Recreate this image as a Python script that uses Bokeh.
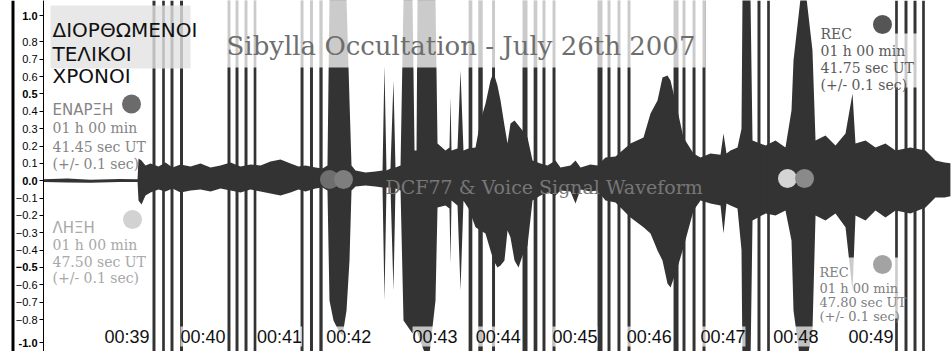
from bokeh.plotting import figure
from bokeh.models import Range1d, LinearAxis, FixedTicker, Span
from bokeh.core.properties import value
from bokeh.embed import file_html
from bokeh.resources import INLINE

# ---------------- data ----------------
# waveform envelope (time in seconds, normalised amplitude)
env_t = [38.180, 38.500, 38.812, 39.200, 39.444, 39.457, 39.497, 39.551, 39.618, 39.726,
         39.820, 39.914, 40.022, 40.156, 40.290, 40.425, 40.559, 40.694, 40.828, 40.962,
         41.097, 41.231, 41.366, 41.500, 41.608, 41.702, 41.836, 41.930, 41.997, 42.024,
         42.078, 42.145, 42.199, 42.253, 42.293, 42.320, 42.374, 42.508, 42.643, 42.737,
         42.763, 42.790, 42.844, 42.884, 42.911, 42.979, 43.019, 43.140, 43.167, 43.194,
         43.207, 43.355, 43.449, 43.476, 43.583, 43.637, 43.651, 43.664, 43.745, 43.785,
         43.825, 43.893, 43.987, 44.054, 44.121, 44.188, 44.229, 44.282, 44.323, 44.376,
         44.417, 44.457, 44.511, 44.565, 44.618, 44.686, 44.753, 44.860, 44.954, 45.062,
         45.129, 45.263, 45.331, 45.398, 45.532, 45.626, 45.734, 45.868, 46.070, 46.245,
         46.339, 46.433, 46.500, 46.567, 46.608, 46.702, 46.782, 46.917, 47.011, 47.145,
         47.280, 47.320, 47.360, 47.414, 47.508, 47.562, 47.575, 47.683, 47.710, 47.885,
         48.019, 48.153, 48.234, 48.261, 48.355, 48.436, 48.516, 48.557, 48.691, 48.825,
         48.960, 49.054, 49.094, 49.229, 49.363, 49.497, 49.632, 49.833, 50.035, 50.169,
         50.290, 50.370]
env_hi = [0.008, 0.012, 0.006, 0.010, 0.008, 0.128, 0.116, 0.088, 0.099, 0.082,
          0.105, 0.076, 0.093, 0.082, 0.099, 0.076, 0.088, 0.105, 0.082, 0.093,
          0.088, 0.111, 0.122, 0.099, 0.082, 0.088, 0.076, 0.070, 0.088, 1.050,
          1.050, 1.050, 1.050, 1.050, 0.462, 0.088, 0.059, 0.047, 0.053, 0.059,
          0.664, 0.059, 0.070, 0.578, 0.076, 0.088, 1.050, 1.050, 0.174, 0.174,
          1.050, 1.050, 1.050, 0.214, 0.174, 0.191, 0.480, 0.174, 0.186, 0.635,
          0.174, 0.186, 0.191, 0.347, 0.444, 0.578, 0.624, 0.549, 0.462, 0.318,
          0.214, 0.330, 0.347, 0.318, 0.289, 0.249, 0.116, 0.099, 0.088, 0.116,
          0.076, 0.088, 0.116, 0.076, 0.093, 0.088, 0.134, 0.140, 0.214, 0.249,
          0.387, 0.462, 0.595, 0.606, 0.578, 0.405, 0.249, 0.157, 0.134, 0.157,
          0.150, 0.272, 0.157, 0.174, 0.191, 0.300, 1.050, 1.050, 0.232, 0.203,
          0.232, 0.191, 0.405, 0.693, 1.050, 1.050, 0.750, 0.232, 0.261, 0.203,
          0.272, 0.503, 0.214, 0.232, 0.191, 0.214, 0.174, 0.191, 0.174, 0.116,
          0.105, 0.100]
env_lo = [-0.008, -0.010, -0.012, -0.008, -0.008, -0.114, -0.137, -0.085, -0.068, -0.051,
          -0.062, -0.045, -0.068, -0.056, -0.051, -0.062, -0.045, -0.056, -0.068, -0.051,
          -0.062, -0.074, -0.085, -0.068, -0.051, -0.062, -0.045, -0.039, -0.056, -0.690,
          -0.806, -0.864, -0.893, -0.748, -0.460, -0.056, -0.033, -0.028, -0.033, -0.039,
          -0.690, -0.039, -0.039, -0.633, -0.045, -0.056, -0.806, -0.881, -0.864, -0.864,
          -0.881, -1.050, -0.690, -0.154, -0.143, -0.160, -0.478, -0.114, -0.143, -0.633,
          -0.115, -0.160, -0.269, -0.287, -0.304, -0.402, -0.460, -0.500, -0.489, -0.460,
          -0.287, -0.327, -0.460, -0.500, -0.432, -0.374, -0.114, -0.085, -0.068, -0.085,
          -0.056, -0.062, -0.131, -0.051, -0.062, -0.056, -0.114, -0.125, -0.212, -0.269,
          -0.304, -0.402, -0.460, -0.592, -0.615, -0.500, -0.385, -0.172, -0.114, -0.131,
          -0.143, -0.304, -0.131, -0.143, -0.160, -0.400, -1.050, -1.050, -0.229, -0.189,
          -0.200, -0.172, -0.344, -0.748, -1.050, -1.050, -0.864, -0.200, -0.229, -0.189,
          -0.269, -0.633, -0.200, -0.229, -0.172, -0.212, -0.172, -0.189, -0.154, -0.097,
          -0.097, -0.090]

# DCF77 pulses (centre time, duration in seconds)
pulse_t = [39.665, 39.793, 39.907, 40.035,
           40.673, 40.781, 40.902, 41.023,
           41.655, 41.782, 41.910,
           43.919, 44.054, 44.229,
           44.652, 44.793, 44.907, 45.042,
           45.660, 45.781, 45.915, 46.050,
           46.682, 46.789, 46.924, 47.058,
           47.797, 47.925,
           49.645, 49.773, 49.894, 50.008]
pulse_w = [0.040, 0.036, 0.040, 0.040,
           0.040, 0.040, 0.040, 0.036,
           0.040, 0.040, 0.044,
           0.050, 0.060, 0.040,
           0.067, 0.050, 0.040, 0.040,
           0.067, 0.040, 0.040, 0.040,
           0.067, 0.040, 0.040, 0.040,
           0.040, 0.036,
           0.036, 0.040, 0.040, 0.036]

# time labels (anchor time, text)
time_t = [39.00, 40.02, 41.05, 41.98, 43.14, 43.99, 45.02, 46.02, 47.01, 47.99, 49.00]
time_labels = ["00:39", "00:40", "00:41", "00:42", "00:43", "00:44",
               "00:45", "00:46", "00:47", "00:48", "00:49"]

# amplitude axis ticks
norm_ticks = [0.8, 0.7, 0.6, 0.4, 0.3, 0.2, 0.1, -0.1, -0.2, -0.3, -0.4, -0.6, -0.7, -0.8]
bold_ticks = [0.952, 0.5, 0.0, -0.5, -0.935]
bold_labels = {0.952: "1.0", 0.0: "0.0", -0.935: "-1.0"}

# annotation markers (time, amplitude, colour)
dot_t = [39.363, 39.376, 42.024, 42.212, 48.180, 48.409, 49.457, 49.457]
dot_y = [0.442, -0.224, 0.007, 0.007, 0.013, 0.013, 0.900, -0.483]
dot_c = ["#6b6b6b", "#d2d2d2", "#6e6e6e", "#7e7e7e", "#d4d4d4", "#8a8a8a", "#555555", "#a3a3a3"]

header_lines = ["ΔΙΟΡΘΩΜΕΝΟΙ", "ΤΕΛΙΚΟΙ", "ΧΡΟΝΟΙ"]
start_lines = ["01 h 00 min", "41.45 sec UT", "(+/- 0.1 sec)"]
end_lines = ["01 h 00 min", "47.50 sec UT", "(+/- 0.1 sec)"]
rec1_lines = ["REC", "01 h 00 min", "41.75 sec UT", "(+/- 0.1 sec)"]
rec2_lines = ["REC", "01 h 00 min", "47.80 sec UT", "(+/- 0.1 sec)"]

# ---------------- figure ----------------
p = figure(width=952, height=351, x_range=Range1d(37.602, 50.398), y_range=Range1d(-0.9844, 1.0386),
           output_backend="svg", toolbar_location=None, x_axis_location=None, y_axis_location=None,
           min_border=0, outline_line_color=None, background_fill_color="white")
p.grid.visible = False

WAVE = "#333333"
p.varea(x=env_t, y1=env_lo, y2=env_hi, fill_color=WAVE)
p.vbar(x=pulse_t, width=pulse_w, top=1.05, bottom=-1.05, fill_color=WAVE, line_color=None)

# translucent boxes
p.quad(left=[40.156, 48.597, 48.557], right=[47.078, 49.941, 49.672],
       top=[1.05, 0.848, -0.443], bottom=[0.652, 0.537, -0.794],
       fill_color="white", fill_alpha=0.75, line_color=None)
p.quad(left=[38.274], right=[40.156], top=[1.01], bottom=[0.647],
       fill_color="#e2e2e2", fill_alpha=0.8, line_color=None)

# left border line
p.add_layout(Span(location=37.770, dimension="height", line_color="black", line_width=3))

# axes at fixed location
for ticks, style in ((norm_ticks, "normal"), (bold_ticks, "bold")):
    ax = LinearAxis(fixed_location=38.180, ticker=FixedTicker(ticks=ticks),
                    axis_line_color="black", axis_line_width=1,
                    major_tick_out=4, major_tick_in=0, minor_tick_line_color=None,
                    major_label_standoff=2,
                    major_label_text_font="Liberation Sans",
                    major_label_text_font_size="11px",
                    major_label_text_font_style=style,
                    major_label_text_color="black")
    if style == "bold":
        ax.major_label_overrides = bold_labels
    p.add_layout(ax, "left")

SERIF = value("DejaVu Serif")
SANS = value("DejaVu Sans")

# title texts
p.text(x=[40.640], y=[0.779], text=["Sibylla Occultation - July 26th 2007"],
       text_font=SERIF, text_font_size="26px", text_color="#6e6e6e",
       text_baseline="alphabetic", text_align="left")
p.text(x=[42.777], y=[-0.039], text=["DCF77 & Voice Signal Waveform"],
       text_font=SERIF, text_font_size="19px", text_color="#777777",
       text_baseline="alphabetic", text_align="left")

# greek header
p.text(x=[38.301] * 3, y=[0.871, 0.733, 0.601], text=header_lines,
       text_font=SANS, text_font_size="20px", text_color="#111111",
       text_baseline="alphabetic", text_align="left")

# start / end blocks
p.text(x=[38.301], y=[0.405], text=["ΕΝΑΡΞΗ"], text_font=SANS, text_font_size="15px",
       text_color="#858585", text_baseline="alphabetic")
p.text(x=[38.301] * 3, y=[0.301, 0.197, 0.099], text=start_lines, text_font=SERIF,
       text_font_size="14px", text_color="#858585", text_baseline="alphabetic")
p.text(x=[38.301], y=[-0.270], text=["ΛΗΞΗ"], text_font=SANS, text_font_size="15px",
       text_color="#a8a8a8", text_baseline="alphabetic")
p.text(x=[38.301] * 3, y=[-0.373, -0.471, -0.558], text=end_lines, text_font=SERIF,
       text_font_size="14px", text_color="#a8a8a8", text_baseline="alphabetic")

# REC blocks
p.text(x=[48.624] * 4, y=[0.843, 0.745, 0.652, 0.554], text=rec1_lines, text_font=SERIF,
       text_font_size="14px", text_color="#5a5a5a", text_baseline="alphabetic")
p.text(x=[48.610] * 4, y=[-0.529, -0.621, -0.702, -0.783], text=rec2_lines, text_font=SERIF,
       text_font_size="13px", text_color="#808080", text_baseline="alphabetic")

# markers
p.scatter(x=dot_t, y=dot_y, marker="circle", size=19, fill_color=dot_c, line_color=None)

# time labels
p.text(x=time_t, y=[-0.898] * len(time_t), text=time_labels,
       text_font=value("Liberation Sans"), text_font_size="18px", text_color="#111111",
       text_baseline="middle", text_align="left",
       background_fill_color="white", background_fill_alpha=0.7)

open("out.html", "w").write(file_html(p, INLINE))
